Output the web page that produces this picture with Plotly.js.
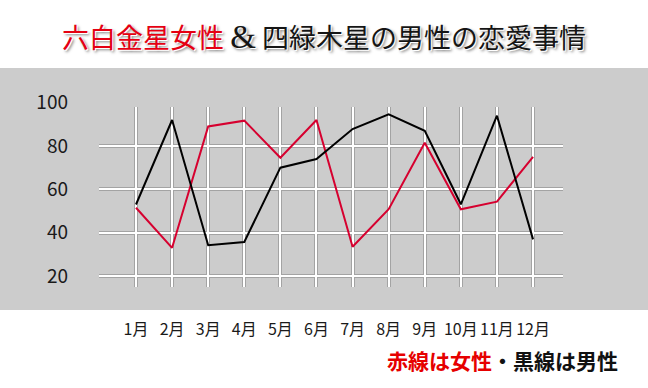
<!DOCTYPE html>
<html><head><meta charset="utf-8">
<script src="https://cdn.plot.ly/plotly-3.0.1.min.js"></script>
<style>html,body{margin:0;padding:0;background:#fff}</style>
</head><body>
<div id="chart" style="width:648px;height:388px"></div>
<script>
const months = ["1月","2月","3月","4月","5月","6月","7月","8月","9月","10月","11月","12月"];
const female = [51.5, 33, 89, 91.7, 74.6, 92, 33.5, 50.8, 81.5, 50.8, 54.3, 75];
const male   = [53, 92, 34.2, 35.7, 70, 74, 87.8, 94.6, 87, 53.1, 94, 36.9];
const gridTicks = [20, 40, 60, 80];
const labelTicks = [20, 40, 60, 80, 100];

const W = 648, H = 388;
const L = 99, R = 85, T = 97, B = 101;
const plotH = H - T - B;
const gridTop = 107;
const yDomTop = (H - B - gridTop) / plotH;
const xRange = [-1.025, 11.83];
const yRange = [14.92, 98.0];
const pxPerUnit = 130 / 60;
const y2Top = 80 + (146 - T) / pxPerUnit;
const band = {top: 68, bottom: 310};
const plotW = W - L - R;

const font = "'Noto Sans CJK JP', 'Noto Sans', sans-serif";

const traces = [
  {x: months, y: male, xaxis: 'x', yaxis: 'y', mode: 'none', hoverinfo: 'skip', showlegend: false},
  {x: months, y: male, xaxis: 'x2', yaxis: 'y2', mode: 'none', hoverinfo: 'skip', showlegend: false},
  {x: months, y: female, xaxis: 'x3', yaxis: 'y3', mode: 'lines', line: {color: '#d6002f', width: 2}, showlegend: false},
  {x: months, y: male, xaxis: 'x3', yaxis: 'y3', mode: 'lines', line: {color: '#000000', width: 2}, showlegend: false}
];

const layout = {
  width: W, height: H,
  margin: {l: L, r: R, t: T, b: B, pad: 0},
  paper_bgcolor: '#ffffff',
  plot_bgcolor: 'rgba(0,0,0,0)',
  showlegend: false,
  font: {family: font, color: '#111'},
  title: {
    text: '<span style="color:#e50012">六白金星女性</span> <span style="font-family:\'Liberation Serif\';font-size:33px">&amp;</span> 四緑木星の男性の恋愛事情',
    x: 0.5, xref: 'container', xanchor: 'center',
    y: 1 - 39 / H, yref: 'container', yanchor: 'middle',
    font: {family: font, size: 27, color: '#151515', shadow: '1px 1px 0 #fff, 2px 2px 3px #777'}
  },
  xaxis: {
    type: 'category', range: xRange, domain: [0, 1], anchor: 'y',
    showgrid: true, gridcolor: '#a3a3a3', gridwidth: 4,
    zeroline: false, showline: false, ticks: '',
    showticklabels: true, ticklabelstandoff: 31,
    tickfont: {family: font, size: 16, color: '#1a1a1a'}
  },
  yaxis: {
    range: yRange, domain: [0, yDomTop], anchor: 'x',
    tickvals: gridTicks, showgrid: true, gridcolor: '#a3a3a3', gridwidth: 4,
    zeroline: false, showline: false, ticks: '', showticklabels: false
  },
  xaxis2: {
    type: 'category', range: xRange, domain: [0, 1], anchor: 'y2', visible: false
  },
  yaxis2: {
    range: [yRange[0], y2Top], domain: [0, 1], anchor: 'x2',
    tickvals: labelTicks, showgrid: false, zeroline: false, showline: false, ticks: '',
    ticklabelstandoff: 30,
    tickfont: {family: font, size: 19, color: '#1a1a1a'}
  },
  xaxis3: {
    type: 'category', range: xRange, overlaying: 'x', anchor: 'y3',
    showgrid: true, gridcolor: '#ffffff', gridwidth: 2,
    zeroline: false, showline: false, ticks: '', showticklabels: false
  },
  yaxis3: {
    range: yRange, overlaying: 'y', anchor: 'x3',
    tickvals: gridTicks, showgrid: true, gridcolor: '#ffffff', gridwidth: 2,
    zeroline: false, showline: false, ticks: '', showticklabels: false
  },
  shapes: [{
    type: 'rect', layer: 'below', xref: 'paper', yref: 'paper',
    x0: -L / plotW, x1: (W - L) / plotW,
    y0: (H - B - band.bottom) / plotH, y1: (H - B - band.top) / plotH,
    fillcolor: '#cccccc', line: {width: 0}
  }],
  annotations: [{
    xref: 'paper', yref: 'paper',
    x: (502 - L) / plotW, y: (H - B - 360) / plotH,
    xanchor: 'center', yanchor: 'middle', showarrow: false,
    text: '<span style="color:#e60000">赤線は女性</span>・黒線は男性',
    font: {family: font, size: 21, color: '#111', weight: 'bold'}
  }]
};

Plotly.newPlot('chart', traces, layout, {displayModeBar: false, staticPlot: true});
</script>
</body></html>
